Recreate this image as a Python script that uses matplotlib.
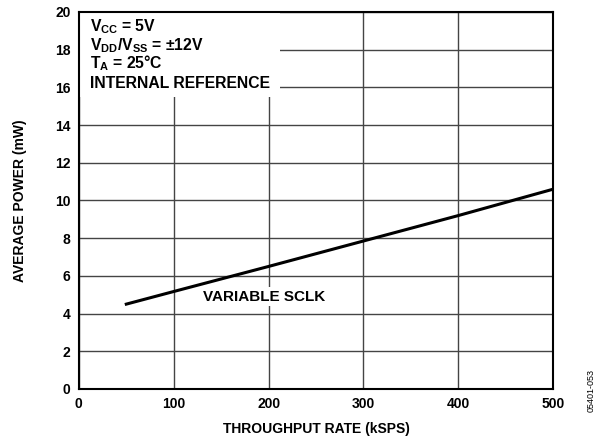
import matplotlib
matplotlib.use("Agg")
import matplotlib.pyplot as plt
from matplotlib.patches import Rectangle

# data
rate_ksps = [50, 100, 200, 300, 400, 500]
power_mw = [4.5, 5.17, 6.5, 7.85, 9.2, 10.6]

x_ticks = [0, 100, 200, 300, 400, 500]
y_ticks = [0, 2, 4, 6, 8, 10, 12, 14, 16, 18, 20]

cond_lines = [r"$\mathbf{V_{CC}}$ = 5V",
              r"$\mathbf{V_{DD}/V_{SS}}$ = ±12V",
              r"$\mathbf{T_{A}}$ = 25°C",
              "INTERNAL REFERENCE"]
curve_label = "VARIABLE SCLK"

plt.rcParams['font.family'] = ['Liberation Sans', 'DejaVu Sans']
plt.rcParams['font.weight'] = 'bold'
plt.rcParams['mathtext.fontset'] = 'custom'
plt.rcParams['mathtext.bf'] = 'Liberation Sans:bold'
plt.rcParams['mathtext.rm'] = 'Liberation Sans:bold'

fig = plt.figure(figsize=(6.02, 4.44), dpi=100)
ax = fig.add_axes([0.131, 0.124, 0.788, 0.849])

ax.plot(rate_ksps, power_mw, color='black', linewidth=2.2, zorder=3)

ax.set_xlim(0, 500)
ax.set_ylim(0, 20)
ax.set_xticks(x_ticks)
ax.set_yticks(y_ticks)
ax.tick_params(length=0, labelsize=10, pad=6)
for lab in ax.get_xticklabels() + ax.get_yticklabels():
    lab.set_fontweight('bold')
ax.grid(True, color='#444444', linewidth=1.0)
for s in ax.spines.values():
    s.set_linewidth(1.5)

ax.set_xlabel("THROUGHPUT RATE (kSPS)", fontsize=10, fontweight='bold', labelpad=8)
ax.set_ylabel("AVERAGE POWER (mW)", fontsize=10, fontweight='bold', labelpad=20)

# white area behind the conditions block
ax.add_patch(Rectangle((0, 0.775), 0.424, 0.225, transform=ax.transAxes,
                       facecolor='white', edgecolor='none', zorder=2.2))
ys = [0.95, 0.899, 0.851, 0.798]
for txt, yy in zip(cond_lines, ys):
    ax.text(0.023, yy, txt, transform=ax.transAxes, fontsize=11.3,
            fontweight='bold', va='baseline', ha='left', zorder=4)

ax.text(131, 4.9, curve_label, fontsize=11, fontweight='bold', va='center',
        ha='left', zorder=4,
        bbox=dict(facecolor='white', edgecolor='none', pad=1.5))

fig.text(0.982, 0.12, "05401-053", rotation=90, fontsize=6.5,
         fontweight='normal', ha='center', va='center')

fig.savefig("out.png", dpi=100)
